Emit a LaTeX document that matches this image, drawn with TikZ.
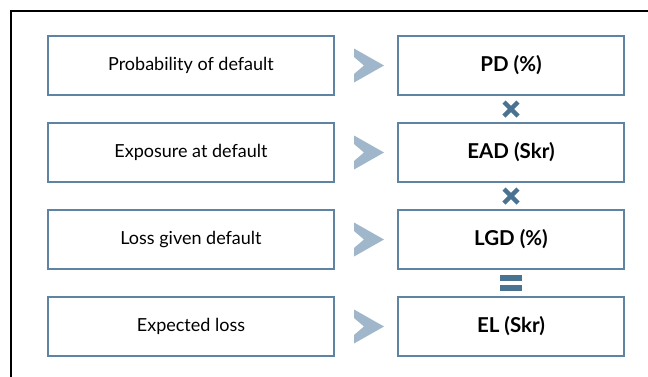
\documentclass[tikz,border=0pt]{standalone}
\usepackage{fontspec}
\setmainfont{Lato}
\definecolor{boxcol}{HTML}{5F84A3}
\definecolor{chevcol}{HTML}{A0B7CB}
\definecolor{opcol}{HTML}{4A7392}
\begin{document}
\begin{tikzpicture}[x=1pt,y=-1pt,
  labelbox/.style={draw=boxcol,line width=1.3pt,minimum width=286pt,minimum height=59pt,inner sep=0pt,font=\fontsize{18}{20}\selectfont},
  valbox/.style={draw=boxcol,line width=1.3pt,minimum width=226pt,minimum height=59pt,inner sep=0pt,font=\fontsize{20.5}{22}\selectfont\bfseries},
  chev/.style={fill=chevcol,draw=none},
  opline/.style={draw=opcol,line width=4.5pt}]
\useasboundingbox (0,0) rectangle (648,376);
\fill[white] (0,0) rectangle (648,376);
\draw[line width=1.3pt] (11,380) -- (11,11) -- (652,11);
\foreach \n/\y/\l/\v in {1/65.5/Probability of default/PD (\%),2/152.5/Exposure at default/EAD (Skr),3/239.5/Loss given default/LGD (\%),4/326.5/Expected loss/EL (Skr)}{
  \node[labelbox] (l\n) at (191,\y) {\l};
  \node[valbox] (v\n) at (511,\y) {\v};
  \fill[chev] (354,\y-17) -- (384,\y) -- (354,\y+17) -- (354,\y+8.5) -- (364,\y) -- (354,\y-8.5) -- cycle;
}
\path (v1.south) -- (v2.north) coordinate[pos=0.5] (m1);
\path (v2.south) -- (v3.north) coordinate[pos=0.5] (m2);
\path (v3.south) -- (v4.north) coordinate[pos=0.5] (m3);
\foreach \m in {m1,m2}{
  \draw[opline] ([shift={(-7,-7)}]\m) -- ([shift={(7,7)}]\m);
  \draw[opline] ([shift={(-7,7)}]\m) -- ([shift={(7,-7)}]\m);
}
\fill[opcol] ([shift={(-11,-8.5)}]m3) rectangle ([shift={(11,-2.5)}]m3);
\fill[opcol] ([shift={(-11,2)}]m3) rectangle ([shift={(11,8)}]m3);
\end{tikzpicture}
\end{document}
